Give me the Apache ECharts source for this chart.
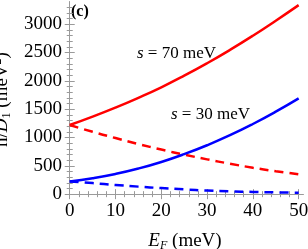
<!DOCTYPE html>
<html><head><meta charset="utf-8">
<script src="https://cdn.jsdelivr.net/npm/echarts@6/dist/echarts.min.js"></script>
<style>html,body{margin:0;padding:0;background:#fff}#c{width:308px;height:249px}</style>
</head><body><div id="c"></div>
<script>
const energies = [0, 5, 10, 15, 20, 25, 30, 35, 40, 45, 50];
const red70Solid = [1220, 1368, 1528, 1700, 1885, 2090, 2310, 2545, 2795, 3060, 3335];
const red70Dashed = [1220, 1100, 990, 885, 787, 697, 614, 537, 466, 405, 350];
const blue30Solid = [225, 282, 357, 452, 568, 706, 863, 1040, 1238, 1455, 1690];
const blue30Dashed = [225, 195, 162, 133, 107, 85, 64, 50, 40, 32, 26];
const xTicks = [0, 10, 20, 30, 40, 50];
const xMinor = [0,2,4,6,8,10,12,14,16,18,20,22,24,26,28,30,32,34,36,38,40,42,44,46,48,50];
const yTicks = [0, 500, 1000, 1500, 2000, 2500, 3000];
const yMinor = [0,100,200,300,400,500,600,700,800,900,1000,1100,1200,1300,1400,1500,1600,1700,1800,1900,2000,2100,2200,2300,2400,2500,2600,2700,2800,2900,3000,3100,3200,3300];

const X_MIN = -0.6, X_MAX = 50.95, Y_MIN = -50, Y_MAX = 3390;
const frame = '#9a9a9a';
const font = 'Liberation Serif';
const plain = v => String(v);

function pairs(ys){ return energies.map((e,i)=>[e, ys[i]]); }

function xAx(pos, ticks, len, labels){
  return {type:'value', position:pos, min:X_MIN, max:X_MAX,
    axisLine:{show:true, lineStyle:{color:frame, width:1}},
    axisTick:{show:true, inside:true, length:len, customValues:ticks, lineStyle:{color:frame}},
    axisLabel:{show:labels, customValues:xTicks, formatter:plain, fontFamily:font, fontSize:19, color:'#000', margin:5},
    splitLine:{show:false}};
}
function yAx(pos, ticks, len, labels){
  return {type:'value', position:pos, min:Y_MIN, max:Y_MAX,
    axisLine:{show:true, lineStyle:{color:frame, width:1}},
    axisTick:{show:true, inside:true, length:len, customValues:ticks, lineStyle:{color:frame}},
    axisLabel:{show:labels, customValues:yTicks, formatter:plain, fontFamily:font, fontSize:19, color:'#000', margin:5},
    splitLine:{show:false}};
}

const xAxes = [xAx('bottom', xTicks, 5, true), xAx('bottom', xMinor, 3, false), xAx('top', xTicks, 5, false), xAx('top', xMinor, 3, false)];
xAxes[0].name = '{i|E}{s|F}{n| (meV)}';
xAxes[0].nameLocation = 'middle';
xAxes[0].nameGap = 33;
xAxes[0].nameTextStyle = {fontFamily:font, fontSize:19, color:'#000', rich:{
  i:{fontFamily:font, fontStyle:'italic', fontSize:19, color:'#000'},
  s:{fontFamily:font, fontStyle:'italic', fontSize:12, color:'#000', padding:[10,0,0,0]},
  n:{fontFamily:font, fontSize:19, color:'#000'}}};

const yAxes = [yAx('left', yTicks, 5, true), yAx('left', yMinor, 3, false), yAx('right', yTicks, 5, false), yAx('right', yMinor, 3, false)];
yAxes[0].name = '{n|n/}{i|D}{s|1}{n| (meV}{p|2}{n|)}';
yAxes[0].nameLocation = 'middle';
yAxes[0].nameGap = 47;
yAxes[0].nameRotate = 90;
yAxes[0].nameTextStyle = {fontFamily:font, fontSize:19, color:'#000', rich:{
  n:{fontFamily:font, fontSize:19, color:'#000'},
  i:{fontFamily:font, fontStyle:'italic', fontSize:19, color:'#000'},
  s:{fontFamily:font, fontSize:12, color:'#000', padding:[10,0,0,0]},
  p:{fontFamily:font, fontSize:12, color:'#000', padding:[0,0,8,0]}}};

function line(data, color, dashed){
  return {type:'line', xAxisIndex:0, yAxisIndex:0, data:pairs(data), smooth:true, showSymbol:false, silent:true,
    lineStyle:{color:color, width:2.5, type: dashed ? [9,6] : 'solid'}};
}

const chart = echarts.init(document.getElementById('c'), null, {renderer:'canvas'});
chart.setOption({
  animation:false,
  grid:{left:67, right:5, top:2, bottom:52, containLabel:false, outerBoundsMode:'none'},
  xAxis:xAxes, yAxis:yAxes,
  series:[line(red70Solid,'#ff0000',false), line(red70Dashed,'#ff0000',true), line(blue30Solid,'#0000ff',false), line(blue30Dashed,'#0000ff',true)],
  graphic:[
    {type:'text', left:71, top:4, style:{text:'(c)', font:'bold 16px "Liberation Serif"', fill:'#000'}},
    {type:'text', left:137, top:45, style:{text:'{i|s} = 70 meV', fill:'#000', rich:{i:{font:'italic 17px "Liberation Serif"'}}, font:'17px "Liberation Serif"'}},
    {type:'text', left:171, top:106, style:{text:'{i|s} = 30 meV', fill:'#000', rich:{i:{font:'italic 17px "Liberation Serif"'}}, font:'17px "Liberation Serif"'}}
  ]
});
</script></body></html>
